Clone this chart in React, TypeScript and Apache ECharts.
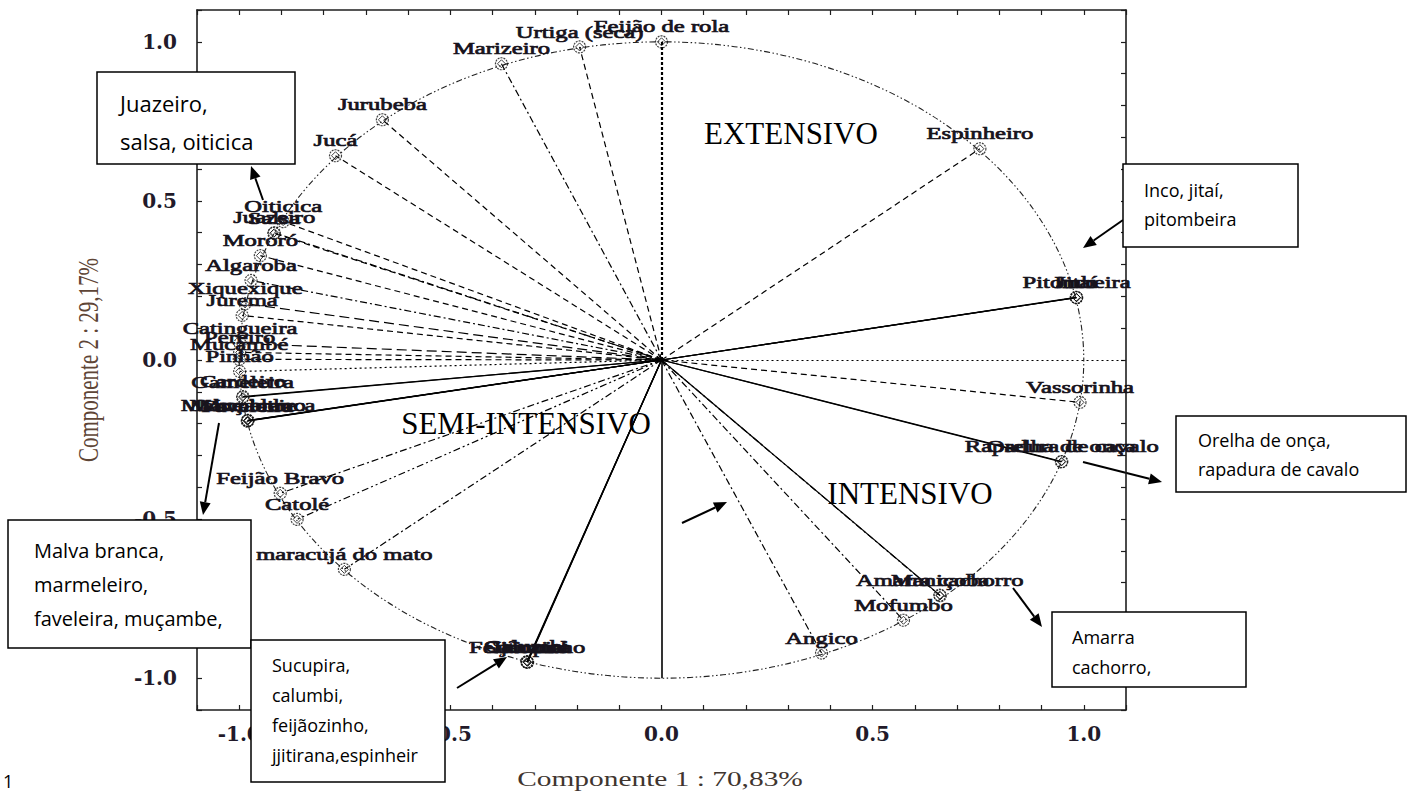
import React, { useEffect, useRef } from 'react';
import * as echarts from 'echarts';

// ---- data ----
const varNames = [
  'Feijão de rola', 'Urtiga (seca)', 'Marizeiro', 'Jurubeba', 'Jucá',
  'Oiticica', 'Juazeiro', 'Salsa', 'Mororó', 'Algaroba',
  'Xiquexique', 'Jurema', 'Catingueira', 'Pereiro', 'Mucambé',
  'Pinhão', 'Cardeiro', 'Gameleira', 'Malva branca', 'Marmeleiro',
  'Faveleira', 'Muçambe', 'Feijão Bravo', 'Catolé', 'maracujá do mato',
  'Sucupira', 'Calumbi', 'Feijãozinho', 'Jitirana', 'Angico',
  'Mofumbo', 'Amarra cachorro', 'Maniçoba', 'Rapadura de cavalo', 'Orelha de onça',
  'Vassorinha', 'Pitombeira', 'Inco', 'Jitaí', 'Espinheiro',
];
const comp1 = [
  0.0, -0.194, -0.379, -0.661, -0.772,
  -0.896, -0.917, -0.918, -0.950, -0.972,
  -0.986, -0.993, -0.998, -0.999, -1.0,
  -0.999, -0.991, -0.992, -0.979, -0.980,
  -0.981, -0.980, -0.903, -0.863, -0.751,
  -0.318, -0.319, -0.318, -0.317, 0.379,
  0.573, 0.659, 0.660, 0.948, 0.947,
  0.991, 0.983, 0.982, 0.983, 0.754,
];
const comp2 = [
  1.0, 0.984, 0.931, 0.755, 0.642,
  0.435, 0.400, 0.398, 0.328, 0.250,
  0.177, 0.140, 0.052, 0.024, 0.002,
  -0.036, -0.115, -0.117, -0.190, -0.191,
  -0.192, -0.190, -0.419, -0.501, -0.658,
  -0.950, -0.948, -0.949, -0.950, -0.921,
  -0.818, -0.739, -0.741, -0.319, -0.320,
  -0.133, 0.196, 0.197, 0.196, 0.664,
];
const lineKinds = [
  'heavy', 'dash', 'dashdot', 'dash', 'dash',
  'dash', 'dashdot', 'dash', 'dash', 'dashdot',
  'longdash', 'dash', 'longdash', 'dash', 'dash',
  'dotted', 'solid', 'solid', 'solid', 'solid',
  'solid', 'solid', 'dashdot', 'dashdotdot', 'dashdot',
  'solid', 'solid', 'solid', 'solid', 'dashdot',
  'dashdot', 'solid', 'dashdot', 'solid', 'solid',
  'dash', 'solid', 'solid', 'solid', 'dash',
];
// reference lines from the origin
const refEnds = [[0, -1], [1.1, 0]];
const refKinds = ['solid', 'dotted'];
const circleRadius = 1;

const tickValues = [-1.0, -0.5, 0.0, 0.5, 1.0];
const xTitle = 'Componente 1 : 70,83%';
const yTitle = 'Componente 2 : 29,17%';
const regionLabels = ['EXTENSIVO', 'SEMI-INTENSIVO', 'INTENSIVO'];
const boxTexts = [
  'Juazeiro,\nsalsa, oiticica',
  'Malva branca,\nmarmeleiro,\nfaveleira, muçambe,',
  'Sucupira,\ncalumbi,\nfeijãozinho,\njjitirana,espinheir',
  'Inco, jitaí,\npitombeira',
  'Orelha de onça,\nrapadura de cavalo',
  'Amarra\ncachorro,',
];

const DASH: Record<string, any> = {
  solid: 'solid',
  dash: [6, 4],
  longdash: [10, 5],
  dashdot: [7, 3, 2, 3],
  dashdotdot: [7, 3, 2, 3, 2, 3],
  dotted: [2, 3],
  heavy: [3, 2],
};

function arrow(x1: number, y1: number, x2: number, y2: number) {
  const ang = Math.atan2(y2 - y1, x2 - x1);
  const L = 13, W = 5.5;
  const bx = x2 - L * Math.cos(ang), by = y2 - L * Math.sin(ang);
  const px = -Math.sin(ang) * W, py = Math.cos(ang) * W;
  return [
    { type: 'line', silent: true, shape: { x1, y1, x2: bx, y2: by }, style: { stroke: '#000', lineWidth: 2 } },
    { type: 'polygon', silent: true, shape: { points: [[x2, y2], [bx + px, by + py], [bx - px, by - py]] }, style: { fill: '#000' } },
  ];
}

function box(x: number, y: number, w: number, h: number, text: string, tx: number, ty: number, fs: number, lh: number) {
  return [
    { type: 'rect', silent: true, shape: { x, y, width: w, height: h }, style: { fill: '#fff', stroke: '#000', lineWidth: 1.5 }, z: 10 },
    {
      type: 'text', silent: true, x: tx, y: ty, z: 11,
      style: { text, fill: '#000', fontFamily: 'Open Sans', fontSize: fs, lineHeight: lh, align: 'left', verticalAlign: 'top', textAlign: 'left', textVerticalAlign: 'top' },
    },
  ];
}

const tickFmt = (v: number) => {
  const r = Math.round(v * 10);
  const hit = tickValues.some((t) => Math.round(t * 10) === r);
  return hit ? (r / 10).toFixed(1) : '';
};

export default function App() {
  const ref = useRef<HTMLDivElement>(null);
  useEffect(() => {
    document.body.style.margin = '0';
    const chart = echarts.init(ref.current!, null, { renderer: 'svg' });
    const axisCommon = {
      type: 'value', min: -1.1, max: 1.1, interval: 0.1,
      splitLine: { show: false },
      axisLine: { onZero: false, lineStyle: { color: '#1e1e1e', width: 1.6 } },
      axisTick: { inside: true, length: 5, lineStyle: { color: '#1e1e1e', width: 1.2 } },
    };
    const labelStyle = { fontFamily: 'DejaVu Serif', fontWeight: 'bold', fontSize: 20, color: '#221a2a', formatter: tickFmt };
    const pts = comp1.map((x, i) => [x, comp2[i]]);

    const graphics: any[] = [];
    graphics.push(...box(97, 72, 198, 92, boxTexts[0], 120, 84, 22, 38));
    graphics.push(...box(8, 520, 243, 128, boxTexts[1], 34, 533, 20, 34));
    graphics.push(...box(251, 640, 194, 142, boxTexts[2], 272, 650, 18, 30));
    graphics.push(...box(1123, 164, 175, 83, boxTexts[3], 1144, 175, 18, 29));
    graphics.push(...box(1176, 416, 230, 76, boxTexts[4], 1198, 425, 18, 29));
    graphics.push(...box(1052, 612, 194, 75, boxTexts[5], 1072, 622, 18, 30));
    graphics.push(...arrow(263, 200, 251, 166));
    graphics.push(...arrow(219, 423, 203, 515));
    graphics.push(...arrow(457, 688, 507, 657));
    graphics.push(...arrow(1123, 220, 1083, 248));
    graphics.push(...arrow(1083, 462, 1162, 482));
    graphics.push(...arrow(1013, 588, 1042, 627));
    graphics.push(...arrow(682, 523, 727, 502));
    const regionPos = [[791, 133], [526, 423], [910, 493]];
    regionLabels.forEach((t, i) => {
      graphics.push({
        type: 'text', silent: true, x: regionPos[i][0], y: regionPos[i][1], z: 5,
        style: { text: t, fill: '#000', fontFamily: 'Liberation Serif', fontSize: 31, align: 'center', verticalAlign: 'middle', textAlign: 'center', textVerticalAlign: 'middle' },
      });
    });
    graphics.push({
      type: 'text', silent: true, x: 660, y: 779, scaleX: 1.4,
      style: { text: xTitle, fill: '#40352f', fontFamily: 'Liberation Serif', fontSize: 21, align: 'center', verticalAlign: 'middle', textAlign: 'center', textVerticalAlign: 'middle' },
    });
    graphics.push({
      type: 'text', silent: true, x: 88, y: 360, rotation: Math.PI / 2, scaleY: 1.45,
      style: { text: yTitle, fill: '#5e4536', fontFamily: 'Liberation Serif', fontSize: 21, align: 'center', verticalAlign: 'middle', textAlign: 'center', textVerticalAlign: 'middle' },
    });
    graphics.push({
      type: 'text', silent: true, x: 3, y: 781,
      style: { text: '1', fill: '#000', fontFamily: 'Open Sans', fontSize: 18, align: 'left', verticalAlign: 'middle', textAlign: 'left', textVerticalAlign: 'middle' },
    });

    chart.setOption({
      animation: false,
      backgroundColor: '#fff',
      grid: { left: 197, top: 10, width: 929, height: 700, containLabel: false },
      xAxis: [
        { ...axisCommon, position: 'bottom', axisLabel: { ...labelStyle, margin: 14 } },
        { ...axisCommon, position: 'top', axisLabel: { show: false } },
      ],
      yAxis: [
        { ...axisCommon, position: 'left', axisLabel: { ...labelStyle, margin: 20 } },
        { ...axisCommon, position: 'right', axisLabel: { show: false } },
      ],
      series: [
        {
          type: 'custom', silent: true, clip: false, z: 1,
          data: [[0, 0]],
          renderItem: (params: any, api: any) => {
            const c = api.coord([0, 0]);
            const e = api.coord([circleRadius, 0]);
            const t = api.coord([0, circleRadius]);
            const rx = e[0] - c[0], ry = c[1] - t[1];
            return {
              type: 'path',
              shape: { pathData: `M ${c[0] + rx} ${c[1]} A ${rx} ${ry} 0 1 1 ${c[0] - rx} ${c[1]} A ${rx} ${ry} 0 1 1 ${c[0] + rx} ${c[1]} Z` },
              style: { fill: 'none', stroke: '#222', lineWidth: 1.1, lineDash: [1.5, 2.5, 1.5, 2.5, 6, 2.5] },
            };
          },
        },
        {
          type: 'lines', coordinateSystem: 'cartesian2d', silent: true, z: 2,
          lineStyle: { color: '#000', width: 1.2, opacity: 1 },
          data: [
            ...pts.map((p, i) => ({
              coords: [[0, 0], p],
              lineStyle: { type: DASH[lineKinds[i]], width: lineKinds[i] === 'heavy' ? 2.2 : 1.2, color: '#000', opacity: 1 },
            })),
            ...refEnds.map((p, i) => ({
              coords: [[0, 0], p],
              lineStyle: { type: DASH[refKinds[i]], width: refKinds[i] === 'solid' ? 1.6 : 1.2, color: '#000', opacity: 1 },
            })),
          ],
        },
        {
          type: 'scatter', silent: true, z: 3, symbol: 'circle', symbolSize: 12,
          itemStyle: { color: 'rgba(255,255,255,0)', borderColor: '#111', borderWidth: 1.2, borderType: [2, 1] },
          data: pts,
        },
        {
          type: 'scatter', silent: true, z: 3, symbol: 'diamond', symbolSize: 8,
          itemStyle: { color: 'rgba(255,255,255,0)', borderColor: '#111', borderWidth: 1 },
          data: pts,
        },
        {
          type: 'custom', silent: true, clip: false, z: 4,
          data: pts,
          renderItem: (params: any, api: any) => {
            const p = api.coord([api.value(0), api.value(1)]);
            return {
              type: 'text', x: p[0], y: p[1] - 15, scaleX: 1.45,
              style: {
                text: varNames[params.dataIndex], fill: '#17131c', stroke: '#17131c', lineWidth: 0.7,
                fontFamily: 'Liberation Serif', fontSize: 17,
                align: 'center', verticalAlign: 'middle', textAlign: 'center', textVerticalAlign: 'middle',
              },
            };
          },
        },
      ],
      graphic: graphics,
    });
    return () => chart.dispose();
  }, []);
  return <div ref={ref} style={{ width: 1408, height: 793 }} />;
}
